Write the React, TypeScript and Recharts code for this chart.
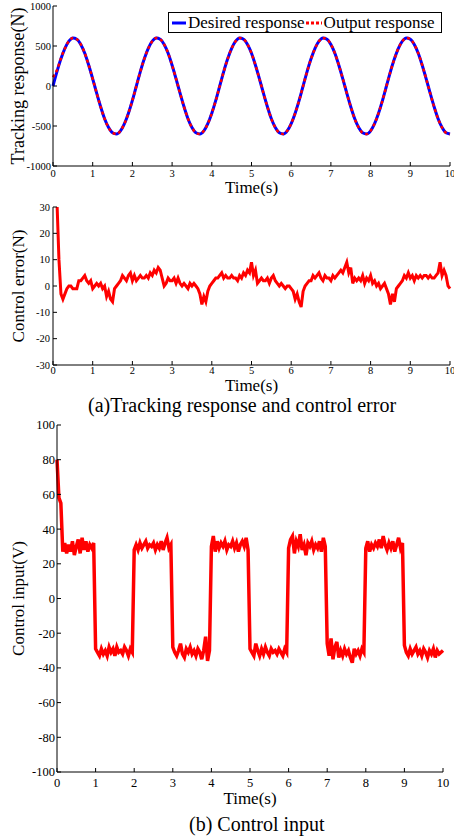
import { LineChart, Line, XAxis, YAxis, Legend } from 'recharts';

const serif = '"Liberation Serif", "Times New Roman", Times, serif';
const TICK_LEN = 4;

// ---- data ----
const timeTicks = [0, 1, 2, 3, 4, 5, 6, 7, 8, 9, 10];
const trackingTicks = [-1000, -500, 0, 500, 1000];
const errorTicks = [-30, -20, -10, 0, 10, 20, 30];
const inputTicks = [-100, -80, -60, -40, -20, 0, 20, 40, 60, 80, 100];

// tracking response, sampled every 0.1 s
const trackingTimes = Array.from({ length: 101 }, (_, i) => i / 10);
const desiredResponse = [
  0, 180, 340, 470, 560, 600, 585, 520, 410, 260, 90, -90, -260, -410, -520, -585, -600, -560, -470, -340, -180,
  0, 180, 340, 470, 560, 600, 585, 520, 410, 260, 90, -90, -260, -410, -520, -585, -600, -560, -470, -340, -180,
  0, 180, 340, 470, 560, 600, 585, 520, 410, 260, 90, -90, -260, -410, -520, -585, -600, -560, -470, -340, -180,
  0, 180, 340, 470, 560, 600, 585, 520, 410, 260, 90, -90, -260, -410, -520, -585, -600, -560, -470, -340, -180,
  0, 180, 340, 470, 560, 600, 585, 520, 410, 260, 90, -90, -260, -410, -520, -585, -600,
];
const outputResponse = [
  110, 200, 345, 470, 560, 600, 585, 520, 410, 260, 90, -90, -260, -410, -520, -585, -600, -560, -470, -340, -180,
  0, 180, 340, 470, 560, 600, 585, 520, 410, 260, 90, -90, -260, -410, -520, -585, -600, -560, -470, -340, -180,
  0, 180, 340, 470, 560, 600, 585, 520, 410, 260, 90, -90, -260, -410, -520, -585, -600, -560, -470, -340, -180,
  0, 180, 340, 470, 560, 600, 585, 520, 410, 260, 90, -90, -260, -410, -520, -585, -600, -560, -470, -340, -180,
  0, 180, 340, 470, 560, 600, 585, 520, 410, 260, 90, -90, -260, -410, -520, -585, -600,
];

// control error and control input, sampled every 0.05 s
const fineTimes = Array.from({ length: 201 }, (_, i) => i / 20);
const controlError = [
  100, 70, 32, 10, -3, -5, -3, -1, 0, 0, -1, -1, -1, 2, 2, 3, 4, 2, 1, 2,
  -1, 0, 1, 0, 1, -1, 0, -4, -2, -5, -6, -1, 0, 1, 2, 4, 3, 2, 4, 5,
  2, 4, 2, 3, 4, 3, 3, 4, 3, 5, 4, 6, 5, 7, 6, 3, 0, 1, 3, 2,
  2, 3, 1, 3, 1, 0, 1, 0, -1, 1, 0, 1, 0, -1, -3, -7, -4, -6, -2, 0,
  1, 2, 3, 3, 4, 5, 3, 4, 3, 3, 4, 3, 3, 2, 4, 3, 5, 4, 6, 5,
  9, 4, 6, 1, 2, 3, 2, 2, 3, 1, 3, 4, 2, 1, 0, 1, 0, -1, 0, 0,
  -1, -2, -5, -3, -6, -8, -2, 0, 1, 2, 2, 4, 3, 4, 5, 3, 2, 4, 3, 3,
  2, 4, 3, 4, 5, 6, 5, 7, 9, 5, 7, 1, 3, 2, 3, 2, 4, 1, 3, 2,
  4, 1, 2, 0, 1, -1, 0, 1, -1, -3, -7, -3, -6, -1, 0, 1, 2, 4, 3, 5,
  3, 4, 2, 4, 3, 4, 3, 4, 4, 3, 4, 3, 3, 4, 5, 9, 4, 6, 4, 0,
  -1,
];
const controlInput = [
  80, 58, 55, 27, 32, 26, 31, 27, 33, 25, 30, 34, 26, 35, 28, 33, 27, 31, 29, 32,
  -29, -31, -33, -29, -32, -30, -33, -28, -31, -29, -33, -28, -31, -30, -32, -28, -30, -33, -29, -31,
  28, 31, 28, 32, 29, 31, 33, 29, 31, 30, 32, 28, 31, 29, 33, 28, 32, 35, 29, 31,
  -28, -31, -33, -30, -26, -32, -34, -29, -31, -28, -32, -30, -33, -29, -31, -35, -30, -22, -36, -30,
  30, 36, 27, 33, 29, 32, 30, 33, 28, 31, 30, 33, 29, 32, 27, 31, 33, 30, 35, 28,
  -29, -31, -33, -26, -30, -33, -29, -32, -28, -31, -33, -29, -31, -30, -32, -29, -31, -33, -29, -31,
  29, 34, 36, 26, 33, 30, 37, 28, 31, 25, 32, 30, 33, 28, 31, 29, 33, 27, 35, 30,
  -26, -33, -23, -35, -28, -25, -34, -30, -33, -29, -32, -30, -34, -37, -29, -32, -30, -33, -29, -31,
  29, 33, 27, 31, 29, 32, 30, 34, 29, 36, 31, 28, 32, 29, 33, 27, 31, 35, 29, 32,
  -27, -31, -33, -29, -32, -30, -28, -32, -30, -33, -29, -31, -34, -30, -32, -29, -34, -30, -32, -31,
  -30,
];

const trackingData = trackingTimes.map((t, i) => ({ t, desired: desiredResponse[i], output: outputResponse[i] }));
const errorData = fineTimes.map((t, i) => ({ t, e: controlError[i] }));
const inputData = fineTimes.map((t, i) => ({ t, u: controlInput[i] }));

// ---- matlab-ish inward ticks ----
const bottomTick = (gap: number, fontSize: number) => (p: any) => (
  <g>
    <line x1={p.x} x2={p.x} y1={p.y - gap} y2={p.y - gap - TICK_LEN} stroke="#000" />
    <text x={p.x} y={p.y} dy="0.71em" textAnchor="middle" fontSize={fontSize} fontFamily={serif} fill="#000">
      {p.payload.value}
    </text>
  </g>
);
const leftTick = (gap: number, fontSize: number) => (p: any) => (
  <g>
    <line x1={p.x + gap} x2={p.x + gap + TICK_LEN} y1={p.y} y2={p.y} stroke="#000" />
    <text x={p.x} y={p.y} dy="0.355em" textAnchor="end" fontSize={fontSize} fontFamily={serif} fill="#000">
      {p.payload.value}
    </text>
  </g>
);
const topTick = (p: any) => <line x1={p.x} x2={p.x} y1={p.y} y2={p.y + TICK_LEN} stroke="#000" />;
const rightTick = (p: any) => <line x1={p.x} x2={p.x - TICK_LEN} y1={p.y} y2={p.y} stroke="#000" />;

const axisLine = { stroke: '#000', strokeWidth: 1 };

const frameAxes = (yDomain: number[], yTicks: number[]) => [
  <XAxis
    key="top"
    xAxisId="top"
    orientation="top"
    type="number"
    domain={[0, 10]}
    ticks={timeTicks}
    interval={0}
    height={0}
    tickSize={0}
    tickMargin={0}
    tickLine={false}
    axisLine={axisLine}
    tick={topTick}
  />,
  <YAxis
    key="right"
    yAxisId="right"
    orientation="right"
    type="number"
    domain={yDomain}
    ticks={yTicks}
    interval={0}
    width={0}
    tickSize={0}
    tickMargin={0}
    tickLine={false}
    axisLine={axisLine}
    tick={rightTick}
  />,
];

const legendDash: Record<string, string | undefined> = { desired: undefined, output: '3 2' };

const renderTrackingLegend = (props: any) => {
  const items = props.payload || [];
  return (
    <div
      style={{
        boxSizing: 'border-box',
        width: 274,
        height: 21,
        border: '1px solid #000',
        background: '#fff',
        display: 'flex',
        alignItems: 'center',
        fontFamily: serif,
        fontSize: 17,
        color: '#000',
        whiteSpace: 'nowrap',
      }}
    >
      {items.map((item: any, i: number) => (
        <span key={i} style={{ display: 'flex', alignItems: 'center', marginLeft: i === 0 ? 3 : 1 }}>
          <svg width={i === 0 ? 14 : 16} height={6}>
            <line
              x1={0}
              x2={i === 0 ? 14 : 16}
              y1={3}
              y2={3}
              stroke={item.color}
              strokeWidth={3}
              strokeDasharray={legendDash[item.dataKey]}
            />
          </svg>
          <span style={{ marginLeft: 2 }}>{item.value}</span>
        </span>
      ))}
    </div>
  );
};

const captionStyle = {
  position: 'absolute' as const,
  fontFamily: serif,
  fontSize: 20,
  lineHeight: '20px',
  color: '#000',
  whiteSpace: 'nowrap' as const,
};

export default function App() {
  return (
    <div style={{ position: 'absolute', left: 0, top: 0, width: 454, height: 838, background: '#fff' }}>
      {/* (a) tracking response */}
      <div style={{ position: 'absolute', left: 0, top: 0 }}>
        <LineChart width={454} height={196} data={trackingData} margin={{ top: 6, right: 4, left: 0, bottom: 0 }}>
          <XAxis
            dataKey="t"
            type="number"
            domain={[0, 10]}
            ticks={timeTicks}
            interval={0}
            height={30}
            tickSize={0}
            tickMargin={4}
            tickLine={false}
            axisLine={axisLine}
            tick={bottomTick(4, 10.5)}
            label={{ value: 'Time(s)', position: 'insideBottom', offset: 3, fontSize: 17, fontFamily: serif, fill: '#000' }}
          />
          <YAxis
            type="number"
            domain={[-1000, 1000]}
            ticks={trackingTicks}
            interval={0}
            width={53}
            tickSize={0}
            tickMargin={2}
            tickLine={false}
            axisLine={axisLine}
            tick={leftTick(2, 10.5)}
            label={{
              value: 'Tracking response(N)',
              angle: -90,
              position: 'insideLeft',
              offset: 18,
              style: { textAnchor: 'middle' },
              fontSize: 18,
              fontFamily: serif,
              fill: '#000',
            }}
          />
          {frameAxes([-1000, 1000], trackingTicks)}
          <Legend
            layout="horizontal"
            verticalAlign="middle"
            align="center"
            wrapperStyle={{ top: 12, left: 168, width: 274, height: 21 }}
            content={renderTrackingLegend}
          />
          <Line
            type="monotone"
            dataKey="desired"
            name="Desired response"
            stroke="#0000FF"
            strokeWidth={3}
            dot={false}
            activeDot={false}
            isAnimationActive={false}
          />
          <Line
            type="monotone"
            dataKey="output"
            name="Output response"
            stroke="#FF0000"
            strokeWidth={2.5}
            strokeDasharray="3 3"
            dot={false}
            activeDot={false}
            isAnimationActive={false}
          />
        </LineChart>
      </div>

      {/* control error */}
      <div style={{ position: 'absolute', left: 0, top: 195 }}>
        <LineChart width={454} height={200} data={errorData} margin={{ top: 12, right: 4, left: 0, bottom: 0 }}>
          <XAxis
            dataKey="t"
            type="number"
            domain={[0, 10]}
            ticks={timeTicks}
            interval={0}
            height={30}
            tickSize={0}
            tickMargin={2}
            tickLine={false}
            axisLine={axisLine}
            tick={bottomTick(2, 10.5)}
            label={{ value: 'Time(s)', position: 'insideBottom', offset: 4, fontSize: 17, fontFamily: serif, fill: '#000' }}
          />
          <YAxis
            type="number"
            domain={[-30, 30]}
            ticks={errorTicks}
            interval={0}
            allowDataOverflow
            width={53}
            tickSize={0}
            tickMargin={3}
            tickLine={false}
            axisLine={axisLine}
            tick={leftTick(3, 10.5)}
            label={{
              value: 'Control error(N)',
              angle: -90,
              position: 'insideLeft',
              offset: 18,
              style: { textAnchor: 'middle' },
              fontSize: 17,
              fontFamily: serif,
              fill: '#000',
            }}
          />
          {frameAxes([-30, 30], errorTicks)}
          <Line
            type="linear"
            dataKey="e"
            stroke="#FF0000"
            strokeWidth={3}
            dot={false}
            activeDot={false}
            isAnimationActive={false}
          />
        </LineChart>
      </div>
      <div style={{ ...captionStyle, left: 88, top: 395 }}>(a)Tracking response and control error</div>

      {/* (b) control input */}
      <div style={{ position: 'absolute', left: 0, top: 410 }}>
        <LineChart width={454} height={400} data={inputData} margin={{ top: 15, right: 11, left: 0, bottom: 0 }}>
          <XAxis
            dataKey="t"
            type="number"
            domain={[0, 10]}
            ticks={timeTicks}
            interval={0}
            height={38}
            tickSize={0}
            tickMargin={6}
            tickLine={false}
            axisLine={axisLine}
            tick={bottomTick(6, 12.5)}
            label={{ value: 'Time(s)', position: 'insideBottom', offset: 6, fontSize: 17, fontFamily: serif, fill: '#000' }}
          />
          <YAxis
            type="number"
            domain={[-100, 100]}
            ticks={inputTicks}
            interval={0}
            width={57}
            tickSize={0}
            tickMargin={2}
            tickLine={false}
            axisLine={axisLine}
            tick={leftTick(2, 12.5)}
            label={{
              value: 'Control input(V)',
              angle: -90,
              position: 'insideLeft',
              offset: 18,
              style: { textAnchor: 'middle' },
              fontSize: 17,
              fontFamily: serif,
              fill: '#000',
            }}
          />
          {frameAxes([-100, 100], inputTicks)}
          <Line
            type="linear"
            dataKey="u"
            stroke="#FF0000"
            strokeWidth={3.5}
            dot={false}
            activeDot={false}
            isAnimationActive={false}
          />
        </LineChart>
      </div>
      <div style={{ ...captionStyle, left: 189, top: 814 }}>(b) Control input</div>
    </div>
  );
}
